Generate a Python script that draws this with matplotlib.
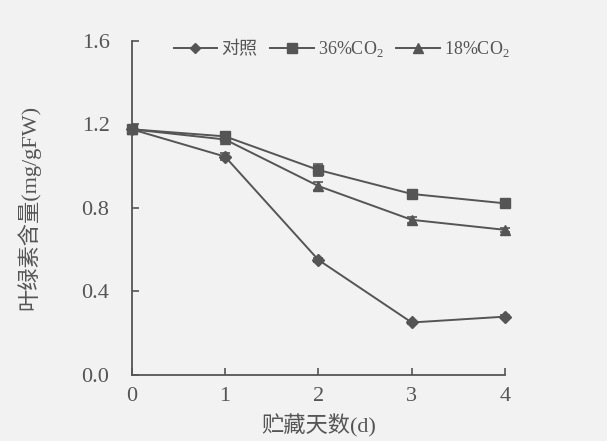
import matplotlib
matplotlib.use("Agg")
import matplotlib.pyplot as plt
from matplotlib.lines import Line2D

days = [0, 1, 2, 3, 4]
labels = ["对照", "36%CO$_2$", "18%CO$_2$"]
control = [1.177, 1.046, 0.551, 0.251, 0.279]
control_err = [0.0, 0.015, 0.008, 0.008, 0.008]
co2_36 = [1.177, 1.143, 0.982, 0.867, 0.822]
co2_36_err = [0.0, 0.01, 0.03, 0.008, 0.008]
co2_18 = [1.177, 1.128, 0.905, 0.743, 0.695]
co2_18_err = [0.0, 0.01, 0.02, 0.015, 0.008]
yticks = [0.0, 0.4, 0.8, 1.2, 1.6]
xticks = [0, 1, 2, 3, 4]

ink = "#555555"
bg = "#f2f2f2"
mixed = ["Liberation Serif", "Noto Sans CJK SC"]
plt.rcParams["font.family"] = mixed
plt.rcParams["mathtext.fontset"] = "custom"
plt.rcParams["mathtext.rm"] = "Liberation Serif"

fig = plt.figure(figsize=(6.07, 4.41), dpi=100, facecolor=bg)
ax = fig.add_axes([0.217, 0.150, 0.615, 0.757], facecolor=bg)

series = [
    (control, control_err, "D", 6),
    (co2_36, co2_36_err, "s", 7),
    (co2_18, co2_18_err, "^", 7.5),
]
handles = []
for (vals, errs, mk, ms), lab in zip(series, labels):
    ax.errorbar(days, vals, yerr=errs, color=ink, lw=1.4, marker=mk, ms=ms,
                mfc=ink, mec=ink, capsize=3.5, elinewidth=1.2, capthick=1.2,
                clip_on=False, zorder=3)
    handles.append(Line2D([], [], color=ink, lw=1.4, marker=mk, ms=ms - 0.5,
                          mfc=ink, mec=ink, label=lab))

ax.set_xlim(0, 4)
ax.set_ylim(0, 1.6)
ax.set_xticks(xticks)
ax.set_yticks(yticks)
ax.set_yticklabels([f"{v:.1f}" for v in yticks])
for s in ("top", "right"):
    ax.spines[s].set_visible(False)
for s in ("left", "bottom"):
    ax.spines[s].set_color(ink)
    ax.spines[s].set_linewidth(1.3)
ax.tick_params(direction="in", length=5, width=1.2, colors=ink,
               labelsize=16, labelcolor=ink)
ax.tick_params(axis="x", pad=9)
ax.tick_params(axis="y", pad=16)

ax.set_xlabel("贮藏天数(d)", fontsize=16, color=ink, family=mixed, labelpad=6)
ax.set_ylabel("叶绿素含量(mg/gFW)", fontsize=16, color=ink, family=mixed,
              labelpad=30)

ax.legend(handles=handles, loc="upper left", bbox_to_anchor=(0.069, 1.055),
          ncol=3, frameon=False, handlelength=2.4, handletextpad=0.25,
          columnspacing=0.7, labelcolor=ink, prop={"family": mixed, "size": 13})

fig.savefig("out.png", dpi=100, facecolor=bg)
